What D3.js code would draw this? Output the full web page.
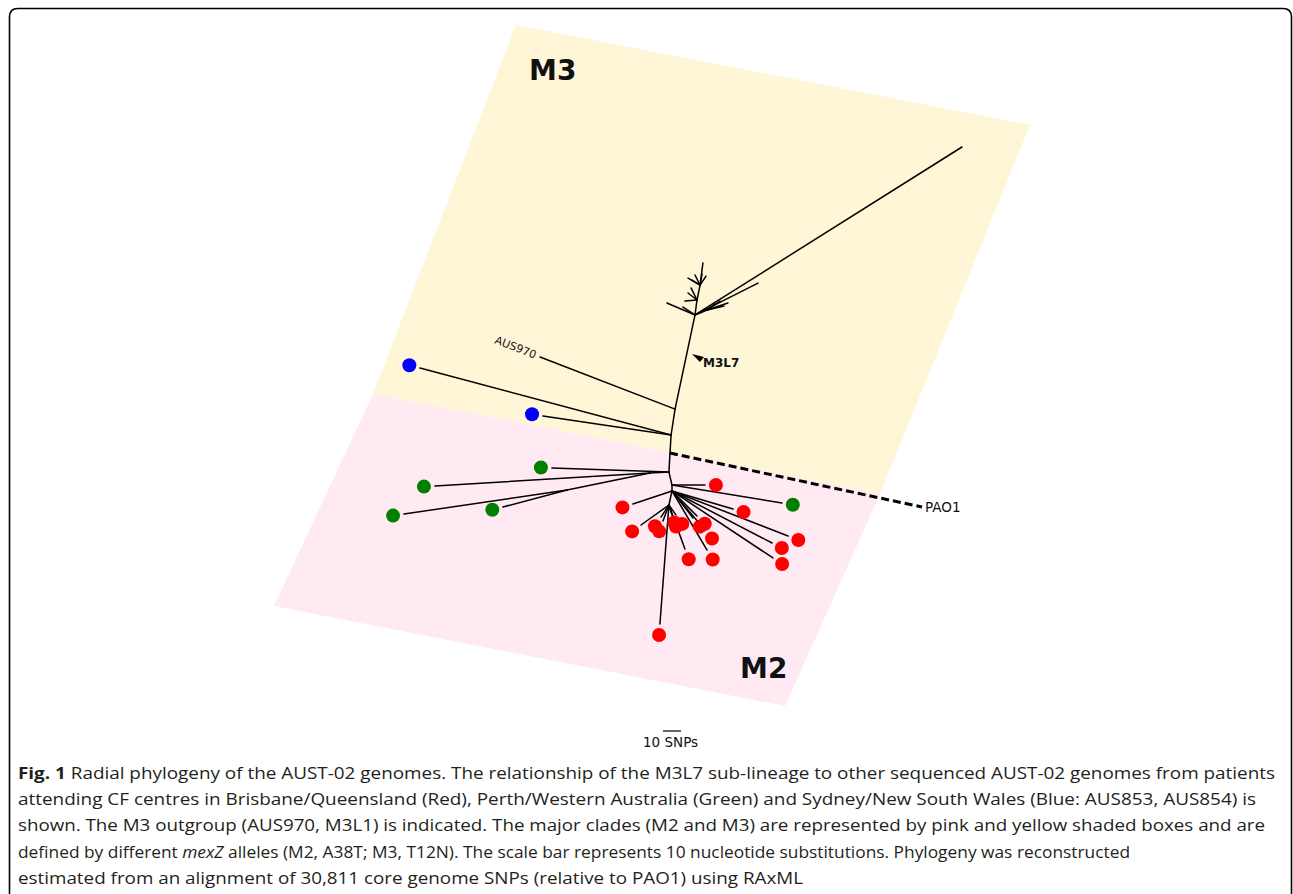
<!DOCTYPE html>
<html lang="en">
<head>
  <meta charset="UTF-8">
  <title>Radial phylogeny of AUST-02</title>
  <style>
    body { margin: 0; background: #fff; }
    .branch { stroke: #000; stroke-width: 1.5px; fill: none; stroke-linecap: round; }
    .outgroup { stroke: #000; stroke-width: 3px; stroke-dasharray: 8, 4; fill: none; }
    .tree-text { font-family: "DejaVu Sans", sans-serif; fill: #111; }
    .caption { font-family: "Open Sans", sans-serif; font-size: 16px; fill: #231f20; }
  </style>
</head>
<body>
  <svg width="1293" height="894"></svg>

  <script src="https://d3js.org/d3.v7.min.js"></script>
  <script>
    // tree layout in SNP units, [id, parent, x, y]
    var internalNodes = [
      ["R", null, 0, 0],
      ["B", "R", 0.6, 10.0],
      ["N970", "B", 2.8, 24.4],
      ["T", "N970", 13.9, 76.7],
      ["U1", "T", 15.0, 85.0],
      ["U2", "U1", 16.7, 93.3],
      ["R1", "T", 20.6, 79.4],
      ["G", "R", -0.6, -10.6],
      ["Ga", "G", -11.1, -11.1],
      ["Gb", "Ga", -57.2, -20.6],
      ["A", "G", 1.1, -17.8],
      ["Bq", "A", 1.1, -21.1],
      ["C", "Bq", -0.6, -28.9]
    ];

    var blueTips = [
      ["AUS853", "B", -138.9, 47.2],
      ["AUS854", "B", -70.6, 20.6]
    ];

    var greenTips = [
      ["P1", "G", -65.6, -8.3],
      ["P2", "Ga", -130.6, -18.3],
      ["P3", "Gb", -147.8, -33.9],
      ["P4", "Gb", -92.8, -30.0],
      ["P5", "A", 62.2, -27.8]
    ];

    var redTips = [
      ["Q1", "A", 19.4, -17.8],
      ["Q2", "Bq", -20.6, -28.3],
      ["Q3", "Bq", 35.0, -31.1],
      ["Q4", "Bq", 65.6, -46.1],
      ["Q5", "Bq", 56.7, -50.0],
      ["Q6", "Bq", 57.2, -58.3],
      ["Q7", "Bq", 20.6, -53.9],
      ["Q8", "Bq", 19.4, -42.8],
      ["Q9", "Bq", 12.8, -36.1],
      ["Q10", "Bq", 15.0, -35.0],
      ["Q11", "C", 8.3, -53.3],
      ["Q12", "C", -5.6, -95.0],
      ["Q13", "C", -16.1, -40.0],
      ["Q14", "C", -5.0, -35.6],
      ["Q15", "C", -3.9, -37.8],
      ["Q16", "C", 0.6, -32.8],
      ["Q17", "C", 1.4, -35.0],
      ["Q18", "C", 3.3, -34.4]
    ];

    // M3 sub-lineage tips (no location colour)
    var plainTips = [
      ["AUS970", "N970", -72.2, 53.3],
      ["L1", "T", 162.2, 170.0],
      ["L2", "T", 48.9, 94.4],
      ["L3", "T", -1.7, 83.3],
      ["L4", "T", 7.2, 81.1],
      ["L5", "R1", 32.2, 83.3],
      ["L6", "R1", 30.0, 81.7],
      ["L7", "R1", 27.8, 84.4],
      ["L8", "U1", 8.3, 84.4],
      ["L9", "U1", 10.0, 88.9],
      ["L10", "U2", 18.3, 105.6],
      ["L11", "U2", 10.0, 97.2],
      ["L12", "U2", 12.2, 96.1],
      ["L13", "U2", 17.8, 99.4],
      ["L14", "U2", 20.0, 98.3],
      ["L15", "U2", 13.9, 98.9],
      ["L16", "U1", 11.7, 91.7],
      ["L17", "R1", 25.0, 82.8]
    ];

    var outgroup = ["PAO1", "R", 140.0, -30.0];

    // clade boxes, corners in SNP units
    var cladeM3 = [[-85.6, 237.8], [200.0, 182.2], [116.7, -22.8], [-165.0, 32.8]];
    var cladeM2 = [[-165.0, 32.8], [116.7, -22.8], [63.9, -140.6], [-220.0, -85.0]];
    var cladeLabels = [["M3", -78.3, 207.2], ["M2", 38.9, -125.0]];
    var m3l7Mark = [12.2, 55.0];
    var scaleBarSNPs = 10;

    var captionLines = [
      [["b", "Fig. 1"], ["", " Radial phylogeny of the AUST-02 genomes. The relationship of the M3L7 sub-lineage to other sequenced AUST-02 genomes from patients"]],
      [["", "attending CF centres in Brisbane/Queensland (Red), Perth/Western Australia (Green) and Sydney/New South Wales (Blue: AUS853, AUS854) is"]],
      [["", "shown. The M3 outgroup (AUS970, M3L1) is indicated. The major clades (M2 and M3) are represented by pink and yellow shaded boxes and are"]],
      [["", "defined by different "], ["i", "mexZ"], ["", " alleles (M2, A38T; M3, T12N). The scale bar represents 10 nucleotide substitutions. Phylogeny was reconstructed"]],
      [["", "estimated from an alignment of 30,811 core genome SNPs (relative to PAO1) using RAxML"]]
    ];
    var captionWidths = [1257, 1238, 1247, 1112, 785];

    var svg = d3.select("svg");

    // 1.8 px per SNP
    var x = d3.scaleLinear().domain([0, 10]).range([670, 688]);
    var y = d3.scaleLinear().domain([0, 10]).range([453, 435]);

    // frame
    svg.append("path")
        .attr("d", "M9.5,900 V17 Q9.5,8.5 18,8.5 H1283 Q1291.5,8.5 1291.5,17 V900")
        .attr("fill", "none")
        .attr("stroke", "#000")
        .attr("stroke-width", 1.6);

    var line = d3.line().x(d => x(d[0])).y(d => y(d[1])).curve(d3.curveLinearClosed);
    svg.append("path").attr("d", line(cladeM3)).attr("fill", "#fff6d7");
    svg.append("path").attr("d", line(cladeM2)).attr("fill", "#ffeaf3");

    svg.selectAll(".clade-label")
      .data(cladeLabels)
      .enter().append("text")
        .attr("class", "tree-text clade-label")
        .attr("x", d => x(d[1]))
        .attr("y", d => y(d[2]))
        .attr("font-size", 28)
        .attr("font-weight", "bold")
        .text(d => d[0]);

    var pos = {};
    internalNodes.concat(blueTips, greenTips, redTips, plainTips, [outgroup]).forEach(function(n) {
      pos[n[0]] = n;
    });

    var edges = internalNodes.filter(n => n[1] !== null)
      .concat(blueTips, greenTips, redTips, plainTips);

    var g = svg.append("g");

    g.selectAll(".branch")
      .data(edges)
      .enter().append("line")
        .attr("class", "branch")
        .attr("x1", d => x(pos[d[1]][2]))
        .attr("y1", d => y(pos[d[1]][3]))
        .attr("x2", d => x(d[2]))
        .attr("y2", d => y(d[3]));

    g.append("line")
        .attr("class", "outgroup")
        .attr("x1", x(pos[outgroup[1]][2]))
        .attr("y1", y(pos[outgroup[1]][3]))
        .attr("x2", x(outgroup[2]))
        .attr("y2", y(outgroup[3]));

    g.append("text")
        .attr("class", "tree-text")
        .attr("x", x(outgroup[2]) + 3)
        .attr("y", y(outgroup[3]))
        .attr("dy", "0.35em")
        .attr("font-size", 13.5)
        .text(outgroup[0]);

    // tip dots sit a little past the end of each branch
    function dotPos(d) {
      var px = x(pos[d[1]][2]), py = y(pos[d[1]][3]);
      var ex = x(d[2]), ey = y(d[3]);
      var len = Math.hypot(ex - px, ey - py) || 1;
      return [ex + (ex - px) / len * 11, ey + (ey - py) / len * 11];
    }

    [[blueTips, "#0000ff"], [greenTips, "#008000"], [redTips, "#ff0000"]].forEach(function(grp) {
      g.selectAll(null)
        .data(grp[0])
        .enter().append("circle")
          .attr("cx", d => dotPos(d)[0])
          .attr("cy", d => dotPos(d)[1])
          .attr("r", 7)
          .attr("fill", grp[1]);
    });

    // AUS970 label along its branch
    var a970 = plainTips[0];
    var ax0 = x(pos[a970[1]][2]), ay0 = y(pos[a970[1]][3]);
    var ax1 = x(a970[2]), ay1 = y(a970[3]);
    var ang = Math.atan2(ay0 - ay1, ax0 - ax1) * 180 / Math.PI;
    g.append("text")
        .attr("class", "tree-text")
        .attr("font-size", 11)
        .attr("text-anchor", "end")
        .attr("dy", "0.35em")
        .attr("transform", "translate(" + (ax1 - 4) + "," + (ay1 - 2) + ") rotate(" + ang + ")")
        .text(a970[0]);

    // M3L7 marker
    var mx = x(m3l7Mark[0]), my = y(m3l7Mark[1]);
    g.append("path")
        .attr("d", "M" + mx + "," + my + " l12,3 l-4,5 z")
        .attr("fill", "#000");
    g.append("text")
        .attr("class", "tree-text")
        .attr("x", mx + 11)
        .attr("y", my + 13)
        .attr("font-size", 12)
        .attr("font-weight", "bold")
        .text("M3L7");

    // scale bar
    var barW = x(scaleBarSNPs) - x(0);
    svg.append("line")
        .attr("x1", 663).attr("x2", 663 + barW)
        .attr("y1", 731).attr("y2", 731)
        .attr("stroke", "#000").attr("stroke-width", 1.2);
    svg.append("text")
        .attr("class", "tree-text")
        .attr("x", 643)
        .attr("y", 747)
        .attr("font-size", 13.5)
        .text(scaleBarSNPs + " SNPs");

    // caption
    var cap = svg.selectAll(".caption")
      .data(captionLines)
      .enter().append("text")
        .attr("class", "caption")
        .attr("x", 18)
        .attr("y", (d, i) => 779 + i * 26.2)
        .attr("textLength", (d, i) => captionWidths[i])
        .attr("lengthAdjust", "spacingAndGlyphs");

    cap.selectAll("tspan")
      .data(d => d)
      .enter().append("tspan")
        .attr("font-weight", d => d[0] === "b" ? "bold" : null)
        .attr("font-style", d => d[0] === "i" ? "italic" : null)
        .text(d => d[1]);
  </script>
</body>
</html>
